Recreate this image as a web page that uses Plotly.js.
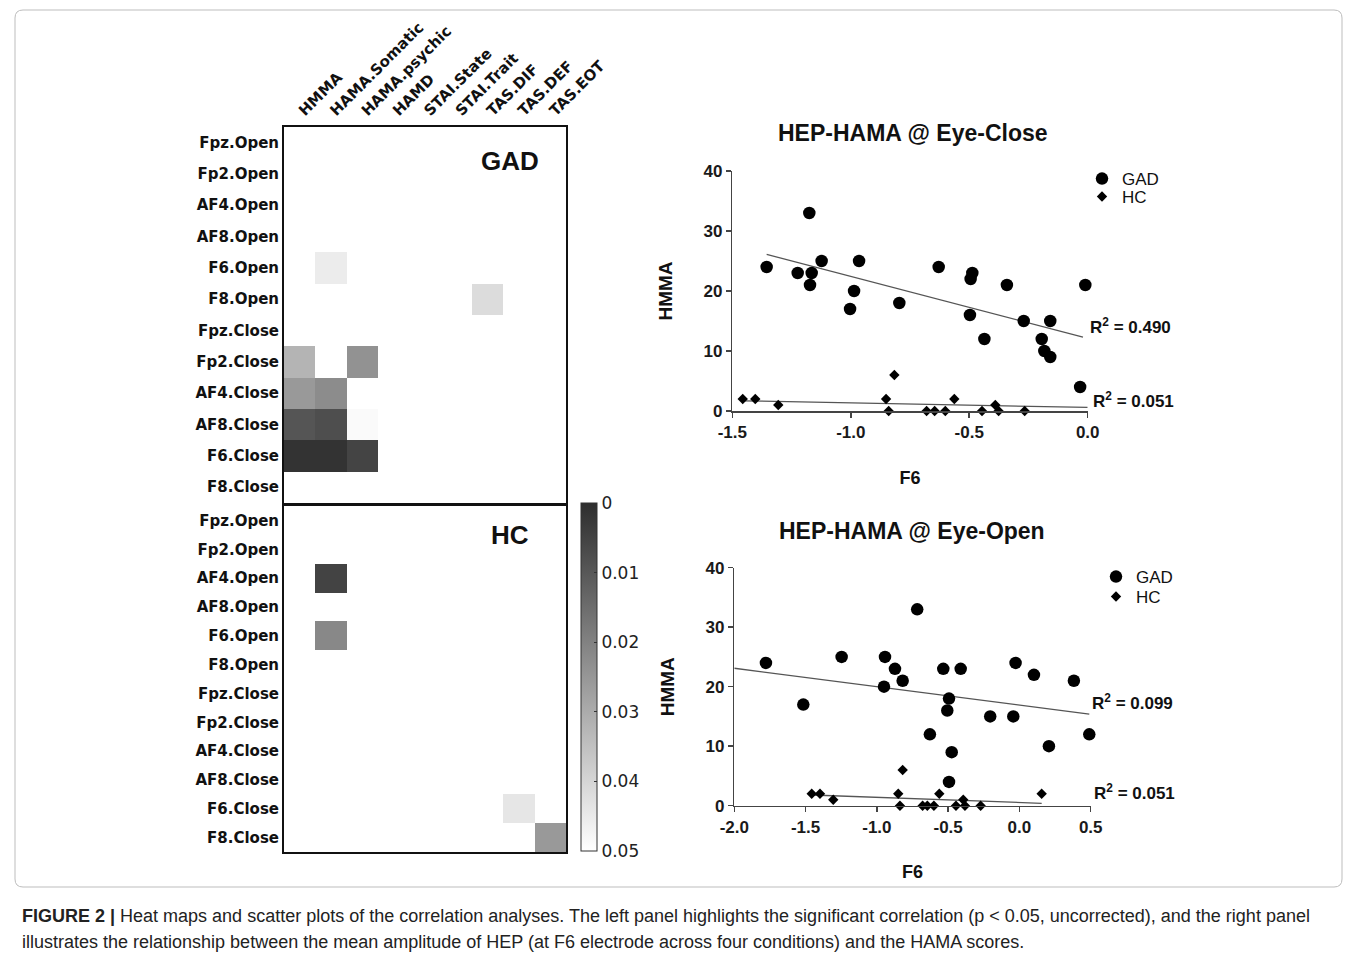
<!DOCTYPE html>
<html><head><meta charset="utf-8">
<script src="https://cdn.plot.ly/plotly-3.0.1.min.js"></script>
<style>html,body{margin:0;padding:0;background:#fff}#chart{width:1357px;height:959px}</style>
</head><body><div id="chart"></div>
<script>
// ---------- heat map data ----------
const measures = ['HMMA','HAMA.Somatic','HAMA.psychic','HAMD','STAI.State','STAI.Trait','TAS.DIF','TAS.DEF','TAS.EOT'];
const conditions = ['Fpz.Open','Fp2.Open','AF4.Open','AF8.Open','F6.Open','F8.Open','Fpz.Close','Fp2.Close','AF4.Close','AF8.Close','F6.Close','F8.Close'];
// significant cells (p < 0.05), GAD group
const gadCond    = ['F6.Open','F8.Open','Fp2.Close','Fp2.Close','AF4.Close','AF4.Close','AF8.Close','AF8.Close','AF8.Close','F6.Close','F6.Close','F6.Close'];
const gadMeasure = ['HAMA.Somatic','TAS.DIF','HMMA','HAMA.psychic','HMMA','HAMA.Somatic','HMMA','HAMA.Somatic','HAMA.psychic','HMMA','HAMA.Somatic','HAMA.psychic'];
const gadP       = [0.0455,0.0416,0.032,0.024,0.0256,0.0225,0.0093,0.0077,0.0488,0.0012,0.0012,0.0053];
// significant cells, HC group
const hcCond    = ['AF4.Open','F6.Open','F6.Close','F8.Close'];
const hcMeasure = ['HAMA.Somatic','HAMA.Somatic','TAS.DEF','TAS.EOT'];
const hcP       = [0.005,0.0215,0.044,0.0256];
const pTicks = [0,0.01,0.02,0.03,0.04,0.05];
const pMax = 0.05;

// ---------- scatter data ----------
const closeGadX = [-1.355,-1.224,-1.175,-1.165,-1.172,-1.123,-1.003,-0.986,-0.965,-0.795,-0.629,-0.497,-0.494,-0.487,-0.436,-0.341,-0.270,-0.194,-0.183,-0.158,-0.158,-0.032,-0.010];
const closeGadY = [24,23,33,23,21,25,17,20,25,18,24,16,22,23,12,21,15,12,10,9,15,4,21];
const closeHcX  = [-1.456,-1.403,-1.306,-0.851,-0.840,-0.816,-0.680,-0.646,-0.601,-0.563,-0.446,-0.390,-0.376,-0.266];
const closeHcY  = [2,2,1,2,0,6,0,0,0,2,0,1,0,0];
const closeGadFitX = [-1.355,-0.020];
const closeGadFitY = [26.1,12.3];
const closeHcFitX  = [-1.456,0.0];
const closeHcFitY  = [1.7,0.6];
const closeR2 = ['0.490','0.051'];

const openGadX = [-1.778,-1.516,-1.247,-0.943,-0.950,-0.873,-0.819,-0.717,-0.628,-0.534,-0.412,-0.494,-0.506,-0.475,-0.494,-0.205,-0.043,-0.027,0.102,0.207,0.382,0.490];
const openGadY = [24,17,25,25,20,23,21,33,12,23,23,18,16,9,4,15,15,24,22,10,21,12];
const openHcX  = [-1.457,-1.399,-1.306,-0.850,-0.838,-0.819,-0.679,-0.646,-0.600,-0.562,-0.445,-0.394,-0.382,-0.272,0.156];
const openHcY  = [2,2,1,2,0,6,0,0,0,2,0,1,0,0,2];
const openGadFitX = [-2.0,0.49];
const openGadFitY = [23.1,15.4];
const openHcFitX  = [-1.457,0.156];
const openHcFitY  = [1.8,0.4];
const openR2 = ['0.099','0.051'];

const closeXTicks = [-1.5,-1.0,-0.5,0.0];
const closeXText  = ['-1.5','-1.0','-0.5','0.0'];
const openXTicks  = [-2.0,-1.5,-1.0,-0.5,0.0,0.5];
const openXText   = ['-2.0','-1.5','-1.0','-0.5','0.0','0.5'];
const yTicks = [0,10,20,30,40];

// ---------- helpers ----------
const W = 1357, H = 959;
const px = v => v / W;
const py = v => 1 - v / H;

function buildZ(cond, meas, p) {
  const z = conditions.map(() => measures.map(() => null));
  for (let i = 0; i < p.length; i++) {
    z[conditions.indexOf(cond[i])][measures.indexOf(meas[i])] = pMax - p[i];
  }
  return z;
}

const hmFont = {family:'DejaVu Sans', size:15, color:'#111', weight:'bold'};
const scFont = {family:'Liberation Sans', size:17, color:'#1a1a1a', weight:'bold'};
const lineStyle = {color:'#555', width:1.3};

const traces = [
  {type:'heatmap', x:measures, y:conditions, z:buildZ(gadCond,gadMeasure,gadP), coloraxis:'coloraxis', xaxis:'x', yaxis:'y', hoverongaps:false},
  {type:'heatmap', x:measures, y:conditions, z:buildZ(hcCond,hcMeasure,hcP), coloraxis:'coloraxis', xaxis:'x2', yaxis:'y2', hoverongaps:false},
  // eye-close scatter
  {type:'scatter', mode:'lines', x:closeGadFitX, y:closeGadFitY, xaxis:'x3', yaxis:'y3', line:lineStyle, showlegend:false, cliponaxis:false},
  {type:'scatter', mode:'lines', x:closeHcFitX, y:closeHcFitY, xaxis:'x3', yaxis:'y3', line:lineStyle, showlegend:false, cliponaxis:false},
  {type:'scatter', mode:'markers', name:'GAD', x:closeGadX, y:closeGadY, xaxis:'x3', yaxis:'y3', marker:{symbol:'circle', size:12.5, color:'#000'}, cliponaxis:false, legend:'legend'},
  {type:'scatter', mode:'markers', name:'HC', x:closeHcX, y:closeHcY, xaxis:'x3', yaxis:'y3', marker:{symbol:'diamond', size:8, color:'#000'}, cliponaxis:false, legend:'legend2'},
  // eye-open scatter
  {type:'scatter', mode:'lines', x:openGadFitX, y:openGadFitY, xaxis:'x4', yaxis:'y4', line:lineStyle, showlegend:false, cliponaxis:false},
  {type:'scatter', mode:'lines', x:openHcFitX, y:openHcFitY, xaxis:'x4', yaxis:'y4', line:lineStyle, showlegend:false, cliponaxis:false},
  {type:'scatter', mode:'markers', name:'GAD', x:openGadX, y:openGadY, xaxis:'x4', yaxis:'y4', marker:{symbol:'circle', size:12.5, color:'#000'}, cliponaxis:false, legend:'legend3'},
  {type:'scatter', mode:'markers', name:'HC', x:openHcX, y:openHcY, xaxis:'x4', yaxis:'y4', marker:{symbol:'diamond', size:8, color:'#000'}, cliponaxis:false, legend:'legend4'}
];

const hmX = [px(284), px(566)];
const boxLine = {showline:true, mirror:true, linecolor:'#111', linewidth:2, ticks:'', showgrid:false, zeroline:false};
const scAxis = {showline:true, linecolor:'#444', linewidth:1.5, ticks:'outside', ticklen:5, tickwidth:1.5, tickcolor:'#444', showgrid:false, zeroline:false, tickfont:scFont, fixedrange:true};

// rounded frame
function framePath(x0,y0,x1,y1,r){
  const X = v => px(v), Y = v => py(v);
  return `M${X(x0+r)},${Y(y0)} L${X(x1-r)},${Y(y0)} Q${X(x1)},${Y(y0)} ${X(x1)},${Y(y0+r)} L${X(x1)},${Y(y1-r)} Q${X(x1)},${Y(y1)} ${X(x1-r)},${Y(y1)} L${X(x0+r)},${Y(y1)} Q${X(x0)},${Y(y1)} ${X(x0)},${Y(y1-r)} L${X(x0)},${Y(y0+r)} Q${X(x0)},${Y(y0)} ${X(x0+r)},${Y(y0)} Z`;
}

const annFontBold = (s) => ({family:'Liberation Sans', size:s, color:'#111', weight:'bold'});
const capFont = {family:'Liberation Sans Narrow, Liberation Sans', size:18, color:'#222'};
const legFont = {family:'Liberation Sans', size:17, color:'#111'};
function leg(xp, yp) {
  return {x:px(xp), y:py(yp), xanchor:'left', yanchor:'middle', font:legFont, bgcolor:'rgba(0,0,0,0)', itemwidth:30, borderwidth:0};
}
function ann(x, y, text, font, xanchor) {
  return {xref:'paper', yref:'paper', x:px(x), y:py(y), text:text, showarrow:false, font:font, xanchor:xanchor || 'center', yanchor:'middle'};
}

const layout = {
  width:W, height:H, margin:{l:0,r:0,t:0,b:0}, paper_bgcolor:'#fff', plot_bgcolor:'#fff', showlegend:true,
  xaxis: Object.assign({}, boxLine, {domain:hmX, anchor:'y', side:'top', tickangle:-45, tickfont:hmFont, categoryorder:'array', categoryarray:measures}),
  yaxis: Object.assign({}, boxLine, {domain:[py(502.5), py(127)], anchor:'x', autorange:'reversed', tickfont:hmFont, categoryorder:'array', categoryarray:conditions}),
  xaxis2: Object.assign({}, boxLine, {domain:hmX, anchor:'y2', showticklabels:false, categoryorder:'array', categoryarray:measures}),
  yaxis2: Object.assign({}, boxLine, {domain:[py(852), py(506)], anchor:'x2', autorange:'reversed', tickfont:hmFont, categoryorder:'array', categoryarray:conditions}),
  xaxis3: Object.assign({}, scAxis, {domain:[px(732.3), px(1087.7)], anchor:'y3', range:[-1.5,0], tickvals:closeXTicks, ticktext:closeXText,
    title:{text:'F6', font:annFontBold(18), standoff:30}}),
  yaxis3: Object.assign({}, scAxis, {domain:[py(411), py(171)], anchor:'x3', range:[0,40], tickvals:yTicks,
    title:{text:'HMMA', font:annFontBold(19), standoff:26}}),
  xaxis4: Object.assign({}, scAxis, {domain:[px(734.3), px(1090.7)], anchor:'y4', range:[-2,0.5], tickvals:openXTicks, ticktext:openXText,
    title:{text:'F6', font:annFontBold(18), standoff:30}}),
  yaxis4: Object.assign({}, scAxis, {domain:[py(805.7), py(567.7)], anchor:'x4', range:[0,40], tickvals:yTicks,
    title:{text:'HMMA', font:annFontBold(19), standoff:26}}),
  coloraxis: {cmin:0, cmax:pMax, colorscale:[[0,'#ffffff'],[1,'#2e2e2e']],
    colorbar:{x:px(581), xanchor:'left', xpad:0, y:py(677), yanchor:'middle', ypad:0, len:348, lenmode:'pixels', thickness:16, thicknessmode:'pixels',
      outlinecolor:'#333', outlinewidth:1, ticks:'inside', ticklen:3, tickcolor:'#333',
      tickvals:pTicks.map(t => pMax - t), ticktext:pTicks.map(t => String(t)),
      tickfont:{family:'DejaVu Sans', size:17, color:'#222'}}},
  legend:  leg(1082, 179),
  legend2: leg(1082, 197),
  legend3: leg(1096, 577),
  legend4: leg(1096, 597),
  shapes: [
    {type:'path', xref:'paper', yref:'paper', path:framePath(15,10,1342,887,8), line:{color:'#bdbdbd', width:1}, fillcolor:'rgba(0,0,0,0)', layer:'below'}
  ],
  annotations: [
    ann(510, 161, 'GAD', annFontBold(26)),
    ann(510, 535, 'HC', annFontBold(26)),
    ann(913, 133, 'HEP-HAMA @ Eye-Close', annFontBold(23)),
    ann(912, 531, 'HEP-HAMA @ Eye-Open', annFontBold(23)),
    ann(1088, 326, 'R<sup>2</sup> = ' + closeR2[0], annFontBold(17), 'left'),
    ann(1091, 400, 'R<sup>2</sup> = ' + closeR2[1], annFontBold(17), 'left'),
    ann(1090, 702, 'R<sup>2</sup> = ' + openR2[0], annFontBold(17), 'left'),
    ann(1092, 792, 'R<sup>2</sup> = ' + openR2[1], annFontBold(17), 'left'),
    ann(20, 916, '<b>FIGURE 2 |</b> Heat maps and scatter plots of the correlation analyses. The left panel highlights the significant correlation (p &lt; 0.05, uncorrected), and the right panel', capFont, 'left'),
    ann(20, 942, 'illustrates the relationship between the mean amplitude of HEP (at F6 electrode across four conditions) and the HAMA scores.', capFont, 'left')
  ]
};

Plotly.newPlot('chart', traces, layout, {displayModeBar:false, staticPlot:true});
</script>
</body></html>
